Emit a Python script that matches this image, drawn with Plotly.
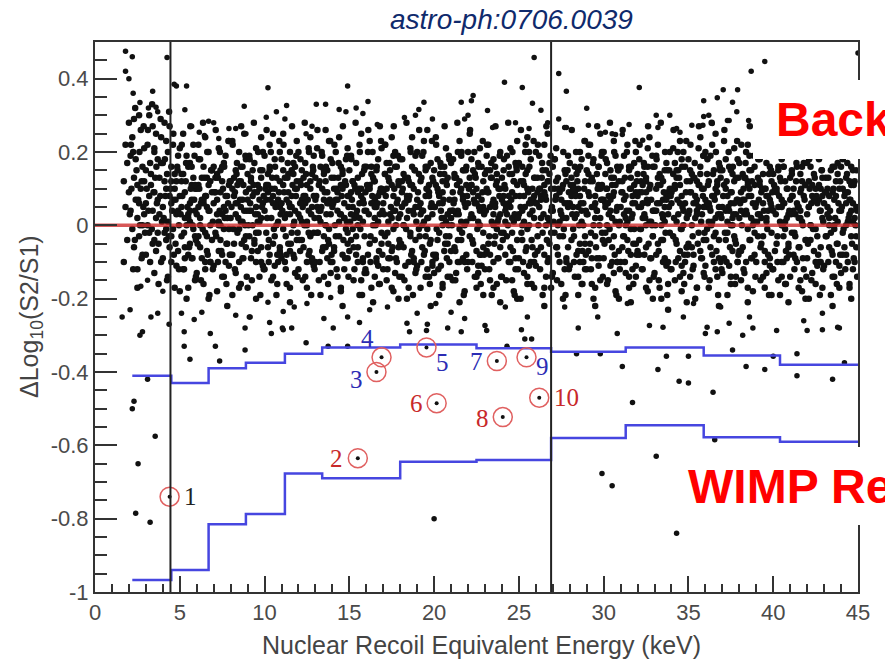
import plotly.graph_objects as go

# ---------------- data ----------------
# dense background band (keV, dLog10(S2/S1))
band_a = [
(1.7,.12),(1.8,.05),(1.9,-.04),(1.8,.22),(1.9,.17),(1.7,-.1),
(2.0,.28),(2.1,.19),(2.2,.24),(2.3,.13),(2.4,.07),(2.5,.02),(2.6,-.03),(2.7,.1),(2.8,.16),(2.9,.21),(2.1,.04),(2.3,-.06),(2.5,.11),(2.7,.26),(2.9,.03),(2.2,-.01),(2.4,.18),(2.6,.3),(2.8,-.08),(2.0,.09),(2.5,-.12),(2.9,.12),(2.3,.29),(2.6,.06),(2.8,.0),
(3.0,.06),(3.1,.22),(3.2,-.02),(3.3,.14),(3.4,.27),(3.5,.09),(3.6,-.07),(3.7,.18),(3.8,.03),(3.9,.24),(3.0,.15),(3.2,.3),(3.4,-.05),(3.5,.2),(3.7,.07),(3.9,-.1),(3.1,.0),(3.3,.11),(3.6,.02),(3.8,.13),(3.2,.08),(3.5,-.13),(3.9,.17),(3.4,.04),(3.7,-.02),(3.0,-.08),(3.6,.25),
(4.0,.05),(4.1,.12),(4.2,-.04),(4.3,.2),(4.4,.08),(4.5,.16),(4.6,-.01),(4.7,.1),(4.8,.03),(4.9,.19),(4.0,-.09),(4.2,.23),(4.4,-.06),(4.6,.07),(4.8,-.11),(4.1,.28),(4.3,.01),(4.5,-.03),(4.7,.14),(4.9,-.07),(4.2,.1),(4.6,.22),(4.8,.12),(4.0,.17),(4.4,.27),(4.9,.04),(4.3,-.14),(4.7,-.17),(4.5,.06),(4.1,-.02),
(5.0,.08),(5.1,-.03),(5.2,.14),(5.3,.02),(5.4,.19),(5.5,-.08),(5.6,.06),(5.7,.11),(5.8,-.01),(5.9,.04),(5.0,.21),(5.2,-.12),(5.3,.09),(5.5,.16),(5.6,-.05),(5.8,.13),(5.9,-.15),(5.1,.05),(5.4,.0),(5.7,-.09),(5.2,.25),(5.6,.01),(5.9,.1),(5.0,-.18),(5.3,-.06),(5.7,.07),(5.8,.22),(5.4,-.2),(5.1,.12),(5.5,.03),(5.9,-.03),(5.6,.17),
(6.0,.03),(6.1,.11),(6.2,-.06),(6.3,.07),(6.4,.16),(6.5,-.02),(6.6,.05),(6.7,.2),(6.8,-.1),(6.9,.09),(6.0,-.13),(6.2,.02),(6.3,.13),(6.5,.08),(6.6,-.07),(6.8,.0),(6.9,.15),(6.1,-.03),(6.4,-.16),(6.7,.04),(6.2,.18),(6.5,.24),(6.8,.12),(6.0,.1),(6.3,-.09),(6.6,.13),(6.9,-.04),(6.4,.06),(6.7,-.2),(6.1,.22),(6.5,-.12),
(7.0,.06),(7.1,-.02),(7.2,.14),(7.3,.01),(7.4,.09),(7.5,-.08),(7.6,.17),(7.7,.04),(7.8,-.05),(7.9,.11),(7.0,-.11),(7.2,.07),(7.3,.21),(7.5,.03),(7.6,-.14),(7.8,.08),(7.9,-.01),(7.1,.13),(7.4,-.04),(7.7,.19),(7.2,-.18),(7.5,.12),(7.8,.02),(7.0,.16),(7.3,-.07),(7.6,.05),(7.9,.23),(7.4,.0),(7.7,-.1),(7.1,.09),(7.8,-.22),(7.4,.15),
(8.0,.02),(8.1,.1),(8.2,-.05),(8.3,.15),(8.4,.06),(8.5,-.01),(8.6,.12),(8.7,-.09),(8.8,.04),(8.9,.18),(8.0,-.08),(8.2,.08),(8.3,-.13),(8.5,.2),(8.6,.01),(8.8,-.04),(8.9,.09),(8.1,.23),(8.4,-.02),(8.7,.07),(8.2,.13),(8.5,-.1),(8.7,.16),(8.0,.12),(8.3,.03),(8.6,-.16),(8.9,-.06),(8.4,.11),(8.8,.25),(8.1,-.19),(8.6,.05),
(9.0,.07),(9.1,-.03),(9.2,.12),(9.3,.0),(9.4,.17),(9.5,.05),(9.6,-.07),(9.7,.1),(9.8,.02),(9.9,-.11),(9.0,.14),(9.2,-.09),(9.3,.08),(9.5,.21),(9.6,.03),(9.8,.13),(9.9,.06),(9.1,.19),(9.4,-.05),(9.7,-.14),(9.2,.04),(9.5,-.02),(9.8,-.06),(9.0,-.17),(9.3,.15),(9.6,.11),(9.9,.2),(9.4,.09),(9.7,.01),(9.1,.1),(9.5,-.2),(9.8,.24),
(10.0,.04),(10.1,.11),(10.2,-.06),(10.3,.16),(10.4,.02),(10.5,.08),(10.6,-.03),(10.7,.13),(10.8,-.1),(10.9,.05),(10.0,-.12),(10.2,.09),(10.3,.22),(10.5,-.05),(10.6,.18),(10.8,.01),(10.9,.12),(10.1,-.02),(10.4,-.15),(10.7,.06),(10.2,.14),(10.5,.25),(10.8,.07),(10.0,.19),(10.3,-.08),(10.6,.1),(10.9,-.07),(10.4,.1),(10.7,-.19),(10.1,.07),(10.9,.2),
]

band_b = [
(11.0,.06),(11.1,-.01),(11.2,.13),(11.3,.03),(11.4,.09),(11.5,-.07),(11.6,.15),(11.7,.0),(11.8,.1),(11.9,-.04),(11.0,.18),(11.2,-.1),(11.3,.07),(11.5,.2),(11.6,-.02),(11.8,-.13),(11.9,.12),(11.1,.11),(11.4,-.05),(11.7,.17),(11.2,.02),(11.5,.05),(11.8,.04),(11.0,-.09),(11.3,-.16),(11.6,.08),(11.9,.23),(11.4,.14),(11.7,-.08),(11.1,.25),(11.5,-.21),(11.8,.16),
(12.0,.03),(12.1,.12),(12.2,-.04),(12.3,.08),(12.4,.17),(12.5,.01),(12.6,-.08),(12.7,.1),(12.8,.05),(12.9,-.02),(12.0,-.12),(12.2,.15),(12.3,-.06),(12.5,.11),(12.6,.21),(12.8,-.1),(12.9,.08),(12.1,.02),(12.4,-.14),(12.7,-.03),(12.2,.07),(12.5,-.17),(12.8,.14),(12.0,.2),(12.3,.13),(12.6,.04),(12.9,.19),(12.4,.06),(12.7,.24),(12.1,-.07),(12.5,.0),(12.9,-.11),
(13.0,.07),(13.1,-.02),(13.2,.11),(13.3,.04),(13.4,-.07),(13.5,.14),(13.6,.0),(13.7,.09),(13.8,-.05),(13.9,.18),(13.0,-.1),(13.2,.02),(13.3,.16),(13.5,-.03),(13.6,.12),(13.8,.06),(13.9,-.13),(13.1,.21),(13.4,.1),(13.7,-.09),(13.2,-.15),(13.5,.07),(13.8,.23),(13.0,.13),(13.3,-.19),(13.6,-.06),(13.9,.03),(13.4,.19),(13.7,.15),(13.1,.05),(13.6,.26),(13.8,-.01),
(14.0,.05),(14.1,.13),(14.2,-.03),(14.3,.09),(14.4,.01),(14.5,.16),(14.6,-.08),(14.7,.06),(14.8,.11),(14.9,-.05),(14.0,-.1),(14.2,.2),(14.3,-.14),(14.5,.03),(14.6,.14),(14.8,-.01),(14.9,.08),(14.1,-.06),(14.4,.24),(14.7,-.12),(14.2,.07),(14.5,-.18),(14.8,.18),(14.0,.17),(14.3,.04),(14.6,.1),(14.9,.21),(14.4,-.03),(14.7,.02),(14.1,.1),(14.6,-.22),(14.9,-.09),
(15.0,.08),(15.1,-.04),(15.2,.12),(15.3,.02),(15.4,.17),(15.5,-.06),(15.6,.06),(15.7,.1),(15.8,-.1),(15.9,.04),(15.0,.15),(15.2,-.01),(15.3,-.12),(15.5,.09),(15.6,.22),(15.8,.07),(15.9,-.03),(15.1,.19),(15.4,-.08),(15.7,-.15),(15.2,.05),(15.5,.13),(15.8,.01),(15.0,-.07),(15.3,.11),(15.6,-.19),(15.9,.16),(15.4,.03),(15.7,.25),(15.1,.09),(15.5,.0),(15.9,-.13),
(16.0,.04),(16.1,.1),(16.2,-.05),(16.3,.14),(16.4,.0),(16.5,.07),(16.6,-.09),(16.7,.18),(16.8,.03),(16.9,-.02),(16.0,-.13),(16.2,.11),(16.3,.06),(16.5,-.04),(16.6,.15),(16.8,.09),(16.9,.21),(16.1,-.08),(16.4,.13),(16.7,-.11),(16.2,.23),(16.5,.02),(16.8,-.16),(16.0,.16),(16.3,-.17),(16.6,.05),(16.9,.1),(16.4,-.21),(16.7,.08),(16.1,.2),(16.5,.12),(16.8,.27),
(17.0,.06),(17.1,-.03),(17.2,.1),(17.3,.01),(17.4,.15),(17.5,-.07),(17.6,.08),(17.7,.04),(17.8,-.1),(17.9,.12),(17.0,-.12),(17.2,.17),(17.3,-.05),(17.5,.11),(17.6,-.01),(17.8,.06),(17.9,-.06),(17.1,.14),(17.4,.03),(17.7,.2),(17.2,-.15),(17.5,.24),(17.8,.16),(17.0,.09),(17.3,.13),(17.6,-.18),(17.9,.02),(17.4,-.09),(17.7,-.13),(17.1,.22),(17.6,.19),(17.9,-.2),
(18.0,.03),(18.1,.09),(18.2,-.06),(18.3,.13),(18.4,.02),(18.5,.07),(18.6,-.02),(18.7,.16),(18.8,-.09),(18.9,.05),(18.0,.18),(18.2,.0),(18.3,-.11),(18.5,.12),(18.6,.21),(18.8,.1),(18.9,-.04),(18.1,-.14),(18.4,.08),(18.7,-.07),(18.2,.14),(18.5,-.17),(18.8,.03),(18.0,-.05),(18.3,.06),(18.6,.11),(18.9,.19),(18.4,-.2),(18.7,.24),(18.1,.12),(18.5,.04),(18.9,-.13),
(19.0,.07),(19.1,-.01),(19.2,.12),(19.3,.04),(19.4,-.08),(19.5,.15),(19.6,.02),(19.7,.09),(19.8,-.04),(19.9,.13),(19.0,-.11),(19.2,.06),(19.3,.19),(19.5,-.03),(19.6,.1),(19.8,.17),(19.9,-.1),(19.1,.14),(19.4,.01),(19.7,-.14),(19.2,-.17),(19.5,.08),(19.8,.05),(19.0,.2),(19.3,-.06),(19.6,-.12),(19.9,.03),(19.4,.23),(19.7,.11),(19.1,.05),(19.6,.26),(19.8,-.22),
(20.0,.05),(20.1,.11),(20.2,-.04),(20.3,.08),(20.4,.16),(20.5,.0),(20.6,-.07),(20.7,.12),(20.8,.03),(20.9,-.1),(20.0,-.13),(20.2,.18),(20.3,-.02),(20.5,.09),(20.6,.14),(20.8,-.05),(20.9,.07),(20.1,-.09),(20.4,.04),(20.7,.21),(20.2,.1),(20.5,-.16),(20.8,.13),(20.0,.15),(20.3,-.19),(20.6,.02),(20.9,.18),(20.4,-.11),(20.7,-.03),(20.1,.24),(20.5,.06),(20.8,-.14),
]

band_c = [
(21.0,.02),(21.1,.09),(21.2,-.06),(21.3,.13),(21.4,.04),(21.5,-.01),(21.6,.1),(21.7,-.09),(21.8,.06),(21.9,.16),(21.0,.17),(21.2,.07),(21.3,-.13),(21.5,.12),(21.6,-.04),(21.8,.0),(21.9,-.08),(21.1,-.15),(21.4,.2),(21.7,.08),(21.2,.14),(21.5,.23),(21.8,-.18),(21.0,-.07),(21.3,.03),(21.6,.19),(21.9,.11),(21.4,-.1),(21.7,.15),(21.1,.04),(21.5,-.21),(21.9,.01),
(22.0,.06),(22.1,-.03),(22.2,.11),(22.3,.02),(22.4,.14),(22.5,-.07),(22.6,.08),(22.7,.04),(22.8,-.11),(22.9,.12),(22.0,-.1),(22.2,.18),(22.3,-.05),(22.5,.1),(22.6,.01),(22.8,.16),(22.9,-.02),(22.1,.13),(22.4,-.14),(22.7,.21),(22.2,.03),(22.5,-.17),(22.8,.07),(22.0,.2),(22.3,.09),(22.6,-.13),(22.9,.05),(22.4,.06),(22.7,-.08),(22.1,.25),(22.6,.17),(22.9,-.19),
(23.0,.04),(23.1,.1),(23.2,-.05),(23.3,.15),(23.4,.01),(23.5,.07),(23.6,-.03),(23.7,.12),(23.8,-.09),(23.9,.03),(23.0,-.12),(23.2,.09),(23.3,-.15),(23.5,.18),(23.6,.06),(23.8,.1),(23.9,.2),(23.1,-.07),(23.4,.13),(23.7,-.01),(23.2,.22),(23.5,-.1),(23.8,.02),(23.0,.14),(23.3,.05),(23.6,.16),(23.9,-.06),(23.4,-.19),(23.7,-.16),(23.1,.19),(23.5,.0),(23.9,-.21),
(24.0,.07),(24.1,-.02),(24.2,.1),(24.3,.03),(24.4,.16),(24.5,-.06),(24.6,.09),(24.7,.01),(24.8,-.12),(24.9,.11),(24.0,.13),(24.2,-.08),(24.3,.19),(24.5,.05),(24.6,-.15),(24.8,.08),(24.9,-.04),(24.1,.15),(24.4,-.1),(24.7,.12),(24.2,.04),(24.5,.21),(24.8,.17),(24.0,-.14),(24.3,-.03),(24.6,.02),(24.9,.23),(24.4,.06),(24.7,-.18),(24.1,.08),(24.6,.14),(24.9,-.2),
(25.0,.03),(25.1,.12),(25.2,-.04),(25.3,.08),(25.4,.14),(25.5,-.01),(25.6,.06),(25.7,-.1),(25.8,.1),(25.9,.02),(25.0,-.09),(25.2,.16),(25.3,-.13),(25.5,.1),(25.6,.2),(25.8,-.06),(25.9,.13),(25.1,.05),(25.4,-.07),(25.7,.18),(25.2,.0),(25.5,-.16),(25.8,.04),(25.0,.17),(25.3,.11),(25.6,-.11),(25.9,-.17),(25.4,.22),(25.7,.07),(25.1,-.2),(25.5,.24),(25.9,.08),
(26.0,.06),(26.1,-.03),(26.2,.1),(26.3,.02),(26.4,.15),(26.5,-.08),(26.6,.07),(26.7,.12),(26.8,-.05),(26.9,.04),(26.0,-.11),(26.2,.19),(26.3,-.06),(26.5,.09),(26.6,-.14),(26.8,.17),(26.9,.1),(26.1,.13),(26.4,-.02),(26.7,-.1),(26.2,.05),(26.5,.22),(26.8,.01),(26.0,.2),(26.3,.08),(26.6,.0),(26.9,-.17),(26.4,-.19),(26.7,.25),(26.1,.09),(26.5,-.22),(26.8,.14),
(27.0,.04),(27.1,.1),(27.2,-.06),(27.3,.13),(27.4,.01),(27.5,.07),(27.6,-.03),(27.7,.15),(27.8,-.1),(27.9,.05),(27.0,-.13),(27.2,.08),(27.3,-.08),(27.5,-.16),(27.6,.11),(27.8,.02),(27.9,.19),(27.1,-.02),(27.4,.09),(27.7,-.12),(27.2,.21),(27.5,.03),(27.8,.12),(27.0,.16),(27.3,.0),(27.6,-.2),(27.9,-.06),(27.4,-.1),(27.7,.06),(27.1,.18),
(28.0,.06),(28.1,-.04),(28.2,.11),(28.3,.02),(28.4,.14),(28.5,-.07),(28.6,.08),(28.7,.04),(28.8,-.1),(28.9,.12),(28.0,.17),(28.2,-.01),(28.3,-.14),(28.5,.1),(28.6,.2),(28.8,.06),(28.9,-.03),(28.1,.13),(28.4,-.08),(28.7,-.16),(28.2,.05),(28.5,.15),(28.8,.0),(28.0,-.11),(28.3,.09),(28.6,-.05),(28.9,.23),(28.4,.03),(28.7,.18),(28.1,.08),(28.5,-.19),(28.9,-.12),
(29.0,.03),(29.1,.09),(29.2,-.05),(29.3,.13),(29.4,.0),(29.5,.06),(29.6,-.09),(29.7,.16),(29.8,.02),(29.9,-.02),(29.0,-.12),(29.2,.12),(29.3,.05),(29.5,-.03),(29.6,.14),(29.8,.1),(29.9,.2),(29.1,-.07),(29.4,.18),(29.7,-.11),(29.2,.22),(29.5,.08),(29.8,-.15),(29.0,.15),(29.3,-.16),(29.6,.04),(29.9,.07),(29.4,-.2),(29.7,.11),(29.1,.19),(29.5,-.22),(29.8,.25),
(30.0,.07),(30.1,-.02),(30.2,.1),(30.3,.03),(30.4,.15),(30.5,-.06),(30.6,.09),(30.7,.01),(30.8,-.1),(30.9,.12),(30.0,-.09),(30.2,.17),(30.3,-.04),(30.5,.11),(30.6,-.13),(30.8,.05),(30.9,-.07),(30.1,.14),(30.4,.04),(30.7,.19),(30.2,-.16),(30.5,.02),(30.8,.16),(30.0,.2),(30.3,.08),(30.6,.13),(30.9,.0),(30.4,-.11),(30.7,-.18),(30.1,.06),(30.6,.23),(30.9,-.2),
]

band_d = [
(31.0,.05),(31.1,.12),(31.2,-.03),(31.3,.08),(31.4,.01),(31.5,.15),(31.6,-.08),(31.7,.06),(31.8,.11),(31.9,-.05),(31.0,-.1),(31.2,.19),(31.3,-.13),(31.5,.04),(31.6,.13),(31.8,-.01),(31.9,.09),(31.1,-.06),(31.4,.22),(31.7,-.12),(31.2,.07),(31.5,-.17),(31.8,.17),(31.0,.16),(31.3,.02),(31.6,.1),(31.9,.2),(31.4,-.04),(31.7,.03),(31.1,.09),(31.6,-.21),(31.9,-.14),
(32.0,.08),(32.1,-.04),(32.2,.12),(32.3,.02),(32.4,.16),(32.5,-.06),(32.6,.06),(32.7,.1),(32.8,-.09),(32.9,.04),(32.0,.14),(32.2,-.01),(32.3,-.12),(32.5,.09),(32.6,.21),(32.8,.07),(32.9,-.03),(32.1,.18),(32.4,-.08),(32.7,-.15),(32.2,.05),(32.5,.13),(32.8,.01),(32.0,-.07),(32.3,.11),(32.6,-.18),(32.9,.16),(32.4,.03),(32.7,.24),(32.1,.09),(32.5,.0),(32.9,-.2),
(33.0,.04),(33.1,.1),(33.2,-.05),(33.3,.14),(33.4,.0),(33.5,.07),(33.6,-.09),(33.7,.17),(33.8,.03),(33.9,-.02),(33.0,-.13),(33.2,.11),(33.3,.06),(33.5,-.04),(33.6,.15),(33.8,.09),(33.9,.2),(33.1,-.08),(33.4,.13),(33.7,-.11),(33.2,.22),(33.5,.02),(33.8,-.16),(33.0,.16),(33.3,-.17),(33.6,.05),(33.9,.1),(33.4,-.2),(33.7,.08),(33.1,.19),(33.5,.12),(33.8,-.23),
(34.0,.06),(34.1,-.03),(34.2,.1),(34.3,.01),(34.4,.15),(34.5,-.07),(34.6,.08),(34.7,.04),(34.8,-.1),(34.9,.12),(34.0,-.12),(34.2,.17),(34.3,-.05),(34.5,.11),(34.6,-.01),(34.8,.06),(34.9,-.06),(34.1,.14),(34.4,.03),(34.7,.2),(34.2,-.15),(34.5,.23),(34.8,.16),(34.0,.09),(34.3,.13),(34.6,-.18),(34.9,.02),(34.4,-.09),(34.7,-.13),(34.1,.21),(34.6,.18),(34.9,-.21),
(35.0,.03),(35.1,.09),(35.2,-.06),(35.3,.13),(35.4,.02),(35.5,.07),(35.6,-.02),(35.7,.16),(35.8,-.09),(35.9,.05),(35.0,.18),(35.2,.0),(35.3,-.11),(35.5,.12),(35.6,.21),(35.8,.1),(35.9,-.04),(35.1,-.14),(35.4,.08),(35.7,-.07),(35.2,.14),(35.5,-.17),(35.8,.03),(35.0,-.05),(35.3,.06),(35.6,.11),(35.9,.19),(35.4,-.2),(35.7,.24),(35.1,.12),(35.5,.04),(35.9,-.13),
(36.0,.07),(36.1,-.01),(36.2,.12),(36.3,.04),(36.4,-.08),(36.5,.15),(36.6,.02),(36.7,.09),(36.8,-.04),(36.9,.13),(36.0,-.11),(36.2,.06),(36.3,.19),(36.5,-.03),(36.6,.1),(36.8,.17),(36.9,-.1),(36.1,.14),(36.4,.01),(36.7,-.14),(36.2,-.17),(36.5,.08),(36.8,.05),(36.0,.2),(36.3,-.06),(36.6,-.12),(36.9,.03),(36.4,.22),(36.7,.11),(36.1,.05),(36.6,.25),(36.8,-.22),
(37.0,.05),(37.1,.11),(37.2,-.04),(37.3,.08),(37.4,.16),(37.5,.0),(37.6,-.07),(37.7,.12),(37.8,.03),(37.9,-.1),(37.0,-.13),(37.2,.18),(37.3,-.02),(37.5,.09),(37.6,.14),(37.8,-.05),(37.9,.07),(37.1,-.09),(37.4,.04),(37.7,.21),(37.2,.1),(37.5,-.16),(37.8,.13),(37.0,.15),(37.3,-.19),(37.6,.02),(37.9,.18),(37.4,-.11),(37.7,-.03),(37.1,.23),(37.5,.06),(37.8,-.14),
(38.0,.02),(38.1,.09),(38.2,-.06),(38.3,.13),(38.4,.04),(38.5,-.01),(38.6,.1),(38.7,-.09),(38.8,.06),(38.9,.16),(38.0,.17),(38.2,.07),(38.3,-.13),(38.5,.12),(38.6,-.04),(38.8,.0),(38.9,-.08),(38.1,-.15),(38.4,.2),(38.7,.08),(38.2,.14),(38.5,.22),(38.8,-.18),(38.0,-.07),(38.3,.03),(38.6,.19),(38.9,.11),(38.4,-.1),(38.7,.15),(38.1,.04),(38.5,-.21),(38.9,.01),
(39.0,.06),(39.1,-.03),(39.2,.11),(39.3,.02),(39.4,.14),(39.5,-.07),(39.6,.08),(39.7,.04),(39.8,-.11),(39.9,.12),(39.0,-.1),(39.2,.18),(39.3,-.05),(39.5,.1),(39.6,.01),(39.8,.16),(39.9,-.02),(39.1,.13),(39.4,-.14),(39.7,.21),(39.2,.03),(39.5,-.17),(39.8,.07),(39.0,.2),(39.3,.09),(39.6,-.13),(39.9,.05),(39.4,.06),(39.7,-.08),(39.1,.24),(39.6,.17),(39.9,-.19),
(40.0,.04),(40.1,.1),(40.2,-.05),(40.3,.15),(40.4,.01),(40.5,.07),(40.6,-.03),(40.7,.12),(40.8,-.09),(40.9,.03),(40.0,-.12),(40.2,.09),(40.3,-.15),(40.5,.18),(40.6,.06),(40.8,.1),(40.9,.2),(40.1,-.07),(40.4,.13),(40.7,-.01),(40.2,.22),(40.5,-.1),(40.8,.02),(40.0,.14),(40.3,.05),(40.6,.16),(40.9,-.06),(40.4,-.19),(40.7,-.16),(40.1,.19),(40.5,.0),(40.9,-.21),
(41.0,.07),(41.1,-.02),(41.2,.1),(41.3,.03),(41.4,.16),(41.5,-.06),(41.6,.09),(41.7,.01),(41.8,-.12),(41.9,.11),(41.0,.13),(41.2,-.08),(41.3,.19),(41.5,.05),(41.6,-.15),(41.8,.08),(41.9,-.04),(41.1,.15),(41.4,-.1),(41.7,.12),(41.2,.04),(41.5,.21),(41.8,.17),(41.0,-.14),(41.3,-.03),(41.6,.02),(41.9,.23),(41.4,.06),(41.7,-.18),(41.1,.08),(41.6,.14),(41.9,-.2),
(42.0,.03),(42.1,.12),(42.2,-.04),(42.3,.08),(42.4,.14),(42.5,-.01),(42.6,.06),(42.7,-.1),(42.8,.1),(42.9,.02),(42.0,-.09),(42.2,.16),(42.3,-.13),(42.5,.1),(42.6,.2),(42.8,-.06),(42.9,.13),(42.1,.05),(42.4,-.07),(42.7,.18),(42.2,.0),(42.5,-.16),(42.8,.04),(42.0,.17),(42.3,.11),(42.6,-.11),(42.9,-.17),(42.4,.22),(42.7,.07),(42.1,-.2),(42.5,.24),(42.9,.08),
(43.0,.06),(43.1,-.03),(43.2,.1),(43.3,.02),(43.4,.15),(43.5,-.08),(43.6,.07),(43.7,.12),(43.8,-.05),(43.9,.04),(43.0,-.11),(43.2,.19),(43.3,-.06),(43.5,.09),(43.6,-.14),(43.8,.17),(43.9,.1),(43.1,.13),(43.4,-.02),(43.7,-.1),(43.2,.05),(43.5,.22),(43.8,.01),(43.0,.2),(43.3,.08),(43.6,.0),(43.9,-.17),(43.4,-.19),(43.7,.25),(43.1,.09),(43.5,-.22),(43.8,.14),
(44.0,.04),(44.1,.1),(44.2,-.06),(44.3,.13),(44.4,.01),(44.5,.07),(44.6,-.03),(44.7,.15),(44.8,-.1),(44.9,.05),(44.0,-.13),(44.2,.08),(44.3,-.08),(44.5,-.16),(44.6,.11),(44.8,.02),(44.9,.19),(44.1,-.02),(44.4,.09),(44.7,-.12),(44.2,.21),(44.5,.03),(44.8,.12),(44.0,.16),(44.3,.0),(44.6,-.2),(44.9,-.06),(44.4,-.1),(44.7,.06),(44.1,.18),(44.6,.04),(44.9,.15),
]

# extra events in the densest part of the band (between about -0.1 and +0.17)
core_a = [
(2.05,.03),(2.15,.1),(2.35,-.04),(2.45,.15),(2.55,.07),(2.65,.0),(2.75,.12),(2.85,.05),(2.95,-.02),(2.25,.2),
(3.05,.1),(3.15,.04),(3.25,.17),(3.35,-.01),(3.45,.09),(3.55,.13),(3.65,.06),(3.75,-.05),(3.85,.08),(3.95,.01),(3.5,.21),
(4.05,.02),(4.15,.08),(4.25,.14),(4.35,-.03),(4.45,.1),(4.55,.04),(4.65,-.08),(4.75,.07),(4.85,.16),(4.95,.0),(4.5,.12),(4.2,-.01),
(5.05,.03),(5.15,.08),(5.25,-.02),(5.35,.12),(5.45,.05),(5.55,-.06),(5.65,.1),(5.75,.0),(5.85,.07),(5.95,-.04),(5.1,.14),(5.3,-.09),(5.5,.02),(5.7,.16),(5.9,.11),(5.6,.04),
(6.05,-.05),(6.15,.1),(6.25,.06),(6.35,-.01),(6.45,.13),(6.55,.08),(6.65,-.08),(6.75,.04),(6.85,.15),(6.95,.01),(6.2,.0),(6.4,.07),(6.6,-.03),(6.8,-.1),(6.1,.05),(6.7,.11),
(7.05,.09),(7.15,-.03),(7.25,.13),(7.35,.04),(7.45,-.07),(7.55,.1),(7.65,.02),(7.75,-.05),(7.85,.06),(7.95,.12),(7.3,.0),(7.5,.16),(7.7,.08),(7.9,-.11),(7.2,.03),(7.6,-.01),
(8.05,.05),(8.15,-.01),(8.25,.09),(8.35,.14),(8.45,.02),(8.55,.07),(8.65,-.05),(8.75,.11),(8.85,.0),(8.95,.04),(8.1,-.08),(8.3,.06),(8.5,.12),(8.7,.01),(8.9,-.03),(8.6,.16),
(9.05,.0),(9.15,.06),(9.25,-.07),(9.35,.11),(9.45,.03),(9.55,.09),(9.65,-.02),(9.75,.15),(9.85,.05),(9.95,.08),(9.2,.13),(9.4,-.04),(9.6,.01),(9.8,-.1),(9.1,.04),(9.7,.07),
(10.05,.1),(10.15,.02),(10.25,-.04),(10.35,.07),(10.45,.13),(10.55,-.01),(10.65,.05),(10.75,-.08),(10.85,.09),(10.95,.03),(10.3,.15),(10.5,.06),(10.7,.0),(10.9,-.06),(10.2,.11),(10.6,-.11),
(11.05,.04),(11.15,.09),(11.25,-.03),(11.35,.13),(11.45,.06),(11.55,-.05),(11.65,.11),(11.75,.01),(11.85,.08),(11.95,-.02),(11.1,.15),(11.3,-.08),(11.5,.03),(11.7,.14),(11.9,.1),(11.6,.05),
(12.05,-.04),(12.15,.11),(12.25,.05),(12.35,.0),(12.45,.14),(12.55,.07),(12.65,-.07),(12.75,.03),(12.85,.16),(12.95,.02),(12.2,.01),(12.4,.08),(12.6,-.02),(12.8,-.09),(12.1,.06),(12.7,.12),
(13.05,.08),(13.15,-.02),(13.25,.12),(13.35,.05),(13.45,-.06),(13.55,.09),(13.65,.03),(13.75,-.04),(13.85,.07),(13.95,.13),(13.3,.01),(13.5,.15),(13.7,.06),(13.9,-.1),(13.2,.04),(13.6,.0),
(14.05,.06),(14.15,.0),(14.25,.1),(14.35,.13),(14.45,.03),(14.55,.08),(14.65,-.04),(14.75,.12),(14.85,.01),(14.95,.05),(14.1,-.07),(14.3,.07),(14.5,.11),(14.7,.02),(14.9,-.02),(14.6,.15),
(15.05,.01),(15.15,.07),(15.25,-.06),(15.35,.1),(15.45,.04),(15.55,.1),(15.65,-.01),(15.75,.14),(15.85,.06),(15.95,.09),(15.2,.12),(15.4,-.03),(15.6,.02),(15.8,-.09),(15.1,.03),(15.7,.08),
]

core_b = [
(16.05,.11),(16.15,.03),(16.25,-.03),(16.35,.08),(16.45,.12),(16.55,.0),(16.65,.06),(16.75,-.07),(16.85,.1),(16.95,.04),(16.3,.16),(16.5,.05),(16.7,.01),(16.9,-.05),(16.2,.1),(16.6,-.1),
(17.05,.03),(17.15,.08),(17.25,-.02),(17.35,.12),(17.45,.05),(17.55,-.06),(17.65,.1),(17.75,.0),(17.85,.07),(17.95,-.04),(17.1,.14),(17.3,-.09),(17.5,.02),(17.7,.16),(17.9,.11),(17.6,.04),
(18.05,-.05),(18.15,.1),(18.25,.06),(18.35,-.01),(18.45,.13),(18.55,.08),(18.65,-.08),(18.75,.04),(18.85,.15),(18.95,.01),(18.2,.0),(18.4,.07),(18.6,-.03),(18.8,-.1),(18.1,.05),(18.7,.11),
(19.05,.09),(19.15,-.03),(19.25,.13),(19.35,.04),(19.45,-.07),(19.55,.1),(19.65,.02),(19.75,-.05),(19.85,.06),(19.95,.12),(19.3,.0),(19.5,.16),(19.7,.08),(19.9,-.11),(19.2,.03),(19.6,-.01),
(20.05,.05),(20.15,-.01),(20.25,.09),(20.35,.14),(20.45,.02),(20.55,.07),(20.65,-.05),(20.75,.11),(20.85,.0),(20.95,.04),(20.1,-.08),(20.3,.06),(20.5,.12),(20.7,.01),(20.9,-.03),(20.6,.16),
(21.05,.0),(21.15,.06),(21.25,-.07),(21.35,.11),(21.45,.03),(21.55,.09),(21.65,-.02),(21.75,.15),(21.85,.05),(21.95,.08),(21.2,.13),(21.4,-.04),(21.6,.01),(21.8,-.1),(21.1,.04),(21.7,.07),
(22.05,.1),(22.15,.02),(22.25,-.04),(22.35,.07),(22.45,.13),(22.55,-.01),(22.65,.05),(22.75,-.08),(22.85,.09),(22.95,.03),(22.3,.15),(22.5,.06),(22.7,.0),(22.9,-.06),(22.2,.11),(22.6,-.11),
(23.05,.04),(23.15,.09),(23.25,-.03),(23.35,.13),(23.45,.06),(23.55,-.05),(23.65,.11),(23.75,.01),(23.85,.08),(23.95,-.02),(23.1,.15),(23.3,-.08),(23.5,.03),(23.7,.14),(23.9,.1),(23.6,.05),
(24.05,-.04),(24.15,.11),(24.25,.05),(24.35,.0),(24.45,.14),(24.55,.07),(24.65,-.07),(24.75,.03),(24.85,.16),(24.95,.02),(24.2,.01),(24.4,.08),(24.6,-.02),(24.8,-.09),(24.1,.06),(24.7,.12),
(25.05,.08),(25.15,-.02),(25.25,.12),(25.35,.05),(25.45,-.06),(25.55,.09),(25.65,.03),(25.75,-.04),(25.85,.07),(25.95,.13),(25.3,.01),(25.5,.15),(25.7,.06),(25.9,-.1),(25.2,.04),(25.6,.0),
(26.05,.06),(26.15,.0),(26.25,.1),(26.35,.13),(26.45,.03),(26.55,.08),(26.65,-.04),(26.75,.12),(26.85,.01),(26.95,.05),(26.1,-.07),(26.3,.07),(26.5,.11),(26.7,.02),(26.9,-.02),(26.6,.15),
(27.05,.01),(27.15,.07),(27.25,-.06),(27.35,.1),(27.45,.04),(27.55,.1),(27.65,-.01),(27.75,.14),(27.85,.06),(27.95,.09),(27.2,.12),(27.4,-.03),(27.6,.02),(27.8,-.09),
(28.05,.11),(28.15,.03),(28.25,-.03),(28.35,.08),(28.45,.12),(28.55,.0),(28.65,.06),(28.75,-.07),(28.85,.1),(28.95,.04),(28.3,.16),(28.5,.05),(28.7,.01),(28.9,-.05),(28.2,.1),(28.6,-.1),
(29.05,.03),(29.15,.08),(29.25,-.02),(29.35,.12),(29.45,.05),(29.55,-.06),(29.65,.1),(29.75,.0),(29.85,.07),(29.95,-.04),(29.1,.14),(29.3,-.09),(29.5,.02),(29.7,.16),(29.9,.11),(29.6,.04),
(30.05,-.05),(30.15,.1),(30.25,.06),(30.35,-.01),(30.45,.13),(30.55,.08),(30.65,-.08),(30.75,.04),(30.85,.15),(30.95,.01),(30.2,.0),(30.4,.07),(30.6,-.03),(30.8,-.1),(30.1,.05),(30.7,.11),
]

core_c = [
(31.05,.09),(31.15,-.03),(31.25,.13),(31.35,.04),(31.45,-.07),(31.55,.1),(31.65,.02),(31.75,-.05),(31.85,.06),(31.95,.12),(31.3,.0),(31.5,.16),(31.7,.08),(31.9,-.11),(31.2,.03),(31.6,-.01),
(32.05,.05),(32.15,-.01),(32.25,.09),(32.35,.14),(32.45,.02),(32.55,.07),(32.65,-.05),(32.75,.11),(32.85,.0),(32.95,.04),(32.1,-.08),(32.3,.06),(32.5,.12),(32.7,.01),(32.9,-.03),(32.6,.16),
(33.05,.0),(33.15,.06),(33.25,-.07),(33.35,.11),(33.45,.03),(33.55,.09),(33.65,-.02),(33.75,.15),(33.85,.05),(33.95,.08),(33.2,.13),(33.4,-.04),(33.6,.01),(33.8,-.1),(33.1,.04),(33.7,.07),
(34.05,.1),(34.15,.02),(34.25,-.04),(34.35,.07),(34.45,.13),(34.55,-.01),(34.65,.05),(34.75,-.08),(34.85,.09),(34.95,.03),(34.3,.15),(34.5,.06),(34.7,.0),(34.9,-.06),(34.2,.11),(34.6,-.11),
(35.05,.04),(35.15,.09),(35.25,-.03),(35.35,.13),(35.45,.06),(35.55,-.05),(35.65,.11),(35.75,.01),(35.85,.08),(35.95,-.02),(35.1,.15),(35.3,-.08),(35.5,.03),(35.7,.14),(35.9,.1),(35.6,.05),
(36.05,-.04),(36.15,.11),(36.25,.05),(36.35,.0),(36.45,.14),(36.55,.07),(36.65,-.07),(36.75,.03),(36.85,.16),(36.95,.02),(36.2,.01),(36.4,.08),(36.6,-.02),(36.8,-.09),(36.1,.06),(36.7,.12),
(37.05,.08),(37.15,-.02),(37.25,.12),(37.35,.05),(37.45,-.06),(37.55,.09),(37.65,.03),(37.75,-.04),(37.85,.07),(37.95,.13),(37.3,.01),(37.5,.15),(37.7,.06),(37.9,-.1),(37.2,.04),(37.6,.0),
(38.05,.06),(38.15,.0),(38.25,.1),(38.35,.13),(38.45,.03),(38.55,.08),(38.65,-.04),(38.75,.12),(38.85,.01),(38.95,.05),(38.1,-.07),(38.3,.07),(38.5,.11),(38.7,.02),(38.9,-.02),(38.6,.15),
(39.05,.01),(39.15,.07),(39.25,-.06),(39.35,.1),(39.45,.04),(39.55,.1),(39.65,-.01),(39.75,.14),(39.85,.06),(39.95,.09),(39.2,.12),(39.4,-.03),(39.6,.02),(39.8,-.09),(39.1,.03),(39.7,.08),
(40.05,.11),(40.15,.03),(40.25,-.03),(40.35,.08),(40.45,.12),(40.55,.0),(40.65,.06),(40.75,-.07),(40.85,.1),(40.95,.04),(40.3,.16),(40.5,.05),(40.7,.01),(40.9,-.05),(40.2,.1),(40.6,-.1),
(41.05,.03),(41.15,.08),(41.25,-.02),(41.35,.12),(41.45,.05),(41.55,-.06),(41.65,.1),(41.75,.0),(41.85,.07),(41.95,-.04),(41.1,.14),(41.3,-.09),(41.5,.02),(41.7,.16),(41.9,.11),(41.6,.04),
(42.05,-.05),(42.15,.1),(42.25,.06),(42.35,-.01),(42.45,.13),(42.55,.08),(42.65,-.08),(42.75,.04),(42.85,.15),(42.95,.01),(42.2,.0),(42.4,.07),(42.6,-.03),(42.8,-.1),(42.1,.05),(42.7,.11),
(43.05,.09),(43.15,-.03),(43.25,.13),(43.35,.04),(43.45,-.07),(43.55,.1),(43.65,.02),(43.75,-.05),(43.85,.06),(43.95,.12),(43.3,.0),(43.5,.16),(43.7,.08),(43.9,-.11),(43.2,.03),(43.6,-.01),
(44.05,.05),(44.15,-.01),(44.25,.09),(44.35,.14),(44.45,.02),(44.55,.07),(44.65,-.05),(44.75,.11),(44.85,.0),(44.95,.04),(44.1,-.08),(44.3,.06),(44.5,.12),(44.7,.01),(44.9,-.03),(44.6,.16),
]

# events on the upper and lower shoulders of the band
shoulder = [
(2.12,.22),(2.37,.32),(2.62,.2),(2.87,.27),(2.25,-.12),(2.5,-.17),(2.75,-.09),
(3.12,.26),(3.37,.33),(3.62,.16),(3.87,.29),(3.25,-.1),(3.5,-.04),(3.75,-.16),
(4.12,.18),(4.37,.31),(4.62,.25),(4.87,.15),(4.25,-.15),(4.5,-.1),(4.75,-.05),(4.95,-.12),
(5.12,.22),(5.37,.17),(5.62,.27),(5.87,.19),(5.25,-.12),(5.5,-.17),(5.75,-.09),(5.95,-.14),
(6.12,.18),(6.37,.28),(6.62,.2),(6.87,.15),(6.25,-.15),(6.5,-.1),(6.75,-.19),(6.95,-.12),
(7.12,.26),(7.37,.2),(7.62,.16),(7.87,.23),(7.25,-.1),(7.5,-.14),(7.75,-.16),(7.95,-.08),
(8.12,.22),(8.37,.17),(8.62,.27),(8.87,.19),(8.25,-.12),(8.5,-.17),(8.75,-.09),(8.95,-.14),
(9.12,.18),(9.37,.28),(9.62,.2),(9.87,.15),(9.25,-.15),(9.5,-.1),(9.75,-.19),(9.95,-.12),
(10.12,.26),(10.37,.2),(10.62,.16),(10.87,.23),(10.25,-.1),(10.5,-.14),(10.75,-.16),(10.95,-.08),
(11.12,.22),(11.37,.17),(11.62,.27),(11.87,.19),(11.25,-.12),(11.5,-.17),(11.75,-.09),(11.95,-.14),
(12.12,.18),(12.37,.28),(12.62,.2),(12.87,.15),(12.25,-.15),(12.5,-.1),(12.75,-.19),(12.95,-.12),
(13.12,.26),(13.37,.2),(13.62,.16),(13.87,.23),(13.25,-.1),(13.5,-.14),(13.75,-.16),(13.95,-.08),
(14.12,.22),(14.37,.17),(14.62,.27),(14.87,.19),(14.25,-.12),(14.5,-.17),(14.75,-.09),(14.95,-.14),
(15.12,.18),(15.37,.28),(15.62,.2),(15.87,.15),(15.25,-.15),(15.5,-.1),(15.75,-.19),(15.95,-.12),
(16.12,.26),(16.37,.2),(16.62,.16),(16.87,.23),(16.25,-.1),(16.5,-.14),(16.75,-.16),(16.95,-.08),
(17.12,.22),(17.37,.17),(17.62,.27),(17.87,.19),(17.25,-.12),(17.5,-.17),(17.75,-.09),(17.95,-.14),
(18.12,.18),(18.37,.28),(18.62,.2),(18.87,.15),(18.25,-.15),(18.5,-.1),(18.75,-.19),(18.95,-.12),
(19.12,.26),(19.37,.2),(19.62,.16),(19.87,.23),(19.25,-.1),(19.5,-.14),(19.75,-.16),(19.95,-.08),
(20.12,.22),(20.37,.17),(20.62,.27),(20.87,.19),(20.25,-.12),(20.5,-.17),(20.75,-.09),(20.95,-.14),
(21.12,.18),(21.37,.28),(21.62,.2),(21.87,.15),(21.25,-.15),(21.5,-.1),(21.75,-.19),(21.95,-.12),
(22.12,.26),(22.37,.2),(22.62,.16),(22.87,.23),(22.25,-.1),(22.5,-.14),(22.75,-.16),(22.95,-.08),
(23.12,.22),(23.37,.17),(23.62,.27),(23.87,.19),(23.25,-.12),(23.5,-.17),(23.75,-.09),(23.95,-.14),
(24.12,.18),(24.37,.28),(24.62,.2),(24.87,.15),(24.25,-.15),(24.5,-.1),(24.75,-.19),(24.95,-.12),
(25.12,.26),(25.37,.2),(25.62,.16),(25.87,.23),(25.25,-.1),(25.5,-.14),(25.75,-.16),(25.95,-.08),
(26.12,.22),(26.37,.17),(26.62,.27),(26.87,.19),(26.25,-.12),(26.5,-.17),(26.75,-.09),(26.95,-.14),
(27.12,.18),(27.62,.2),(27.87,.15),(27.25,-.15),(27.75,-.19),(27.95,-.12),
(28.12,.26),(28.37,.2),(28.62,.16),(28.87,.23),(28.25,-.1),(28.5,-.14),(28.75,-.16),(28.95,-.08),
(29.12,.22),(29.37,.17),(29.62,.27),(29.87,.19),(29.25,-.12),(29.5,-.17),(29.75,-.09),(29.95,-.14),
(30.12,.18),(30.37,.28),(30.62,.2),(30.87,.15),(30.25,-.15),(30.5,-.1),(30.75,-.19),(30.95,-.12),
(31.12,.26),(31.37,.2),(31.62,.16),(31.87,.23),(31.25,-.1),(31.5,-.14),(31.75,-.16),(31.95,-.08),
(32.12,.22),(32.37,.17),(32.62,.27),(32.87,.19),(32.25,-.12),(32.5,-.17),(32.75,-.09),(32.95,-.14),
(33.12,.18),(33.37,.28),(33.62,.2),(33.87,.15),(33.25,-.15),(33.5,-.1),(33.75,-.19),(33.95,-.12),
(34.12,.26),(34.37,.2),(34.62,.16),(34.87,.23),(34.25,-.1),(34.5,-.14),(34.75,-.16),(34.95,-.08),
(35.12,.22),(35.37,.17),(35.62,.27),(35.87,.19),(35.25,-.12),(35.5,-.17),(35.75,-.09),(35.95,-.14),
(36.12,.18),(36.37,.28),(36.62,.2),(36.87,.15),(36.25,-.15),(36.5,-.1),(36.75,-.19),(36.95,-.12),
(37.12,.26),(37.37,.2),(37.62,.16),(37.87,.23),(37.25,-.1),(37.5,-.14),(37.75,-.16),(37.95,-.08),
(38.12,.22),(38.37,.17),(38.62,.27),(38.87,.19),(38.25,-.12),(38.5,-.17),(38.75,-.09),(38.95,-.14),
(39.12,.18),(39.37,.28),(39.62,.2),(39.87,.15),(39.25,-.15),(39.5,-.1),(39.75,-.19),(39.95,-.12),
(40.12,.26),(40.37,.2),(40.62,.16),(40.87,.23),(40.25,-.1),(40.5,-.14),(40.75,-.16),(40.95,-.08),
(41.12,.22),(41.37,.17),(41.62,.27),(41.87,.19),(41.25,-.12),(41.5,-.17),(41.75,-.09),(41.95,-.14),
(42.12,.18),(42.37,.28),(42.62,.2),(42.87,.15),(42.25,-.15),(42.5,-.1),(42.75,-.19),(42.95,-.12),
(43.12,.26),(43.37,.2),(43.62,.16),(43.87,.23),(43.25,-.1),(43.5,-.14),(43.75,-.16),(43.95,-.08),
(44.12,.22),(44.37,.17),(44.62,.27),(44.87,.19),(44.25,-.12),(44.5,-.17),(44.75,-.09),(44.95,-.14),
]

# sparse events above the band
upper_tail = [
(1.8,.475),(2.2,.46),(1.8,.42),(2.0,.40),(2.25,.36),(3.4,.366),(4.25,.458),(4.8,.38),(5.4,.38),(5.3,.315),(5.7,.27),(8.8,.325),(10.2,.375),(11.2,.29),(11.3,.327),(10.1,.295),(10.7,.31),(2.65,.335),(3.15,.32),(3.6,.322),(3.7,.31),(6.7,.284),(7.0,.28),(6.15,.254),(6.45,.245),(7.3,.237),(7.9,.264),(8.3,.264),(8.9,.25),(4.67,.385),
(14.9,.38),(13.05,.33),(13.6,.33),(16.1,.338),(15.4,.32),(14.4,.316),(14.8,.31),(15.8,.305),(19.4,.336),(19.1,.316),(21.6,.336),(22.3,.354),(22.2,.34),(23.15,.313),(24.15,.39),(25.2,.376),(25.9,.458),(25.8,.333),(26.3,.314),(18.25,.294),(16.65,.275),(19.9,.29),(22.0,.30),(12.8,.27),(12.45,.25),(27.35,.414),(27.8,.366),(27.35,.29),(27.8,.267),(26.7,.28),(23.45,.267),(24.8,.28),(25.6,.264),(18.9,.30),(21.8,.29),
(45.0,.47),(39.5,.447),(38.7,.42),(32.1,.376),(29.0,.319),(37.05,.37),(37.9,.37),(36.7,.348),(35.9,.34),(37.6,.336),(33.1,.30),(33.9,.30),(33.2,.267),(31.5,.275),(29.1,.273),(27.7,.267),(30.1,.254),(30.5,.25),(31.1,.248),(34.3,.264),(35.2,.273),(35.85,.273),(36.2,.30),(36.4,.278),(37.3,.286),(37.85,.31),(38.55,.286),(35.9,.297),(37.4,.286),(34.5,.254),(32.3,.232),(30.7,.248),
]

# sparse events below the band
lower_tail = [
(2.7,-.166),(3.1,-.15),(4.0,-.18),(1.6,-.25),(2.07,-.23),(3.3,-.25),(3.7,-.24),(2.8,-.29),(2.65,-.30),(4.37,-.27),(3.1,-.42),(2.3,-.48),(2.2,-.50),(3.55,-.575),(2.54,-.65),(2.4,-.785),(3.25,-.81),
(5.26,-.29),(5.26,-.33),(5.6,-.365),(6.8,-.295),(7.1,-.33),(7.35,-.37),(8.3,-.245),(8.85,-.28),(8.85,-.34),(9.15,-.25),(10.4,-.295),(11.1,-.285),(11.6,-.28),(10.3,-.265),(11.1,-.235),(12.45,-.32),(13.75,-.33),(14.9,-.33),(14.05,-.28),(11.05,-.28),(18.55,-.29),(19.55,-.287),(19.6,-.27),(20.8,-.28),(21.6,-.29),(23.1,-.287),(24.3,-.33),(25.15,-.285),(25.35,-.31),(25.75,-.31),(25.5,-.25),(16.2,-.23),(20.0,-.80),
(5.1,-.24),(5.85,-.257),(6.3,-.237),(9.1,-.25),(10.2,-.21),(11.75,-.223),(12.5,-.213),(13.5,-.254),(13.9,-.197),(14.9,-.25),(15.6,-.265),(19.0,-.24),(20.1,-.213),(21.0,-.237),(21.8,-.254),(23.0,-.273),(24.2,-.223),(18.4,-.267),(17.25,-.223),(27.7,-.223),(29.65,-.25),(31.4,-.213),
(32.7,-.273),(33.5,-.278),(34.7,-.25),(36.1,-.278),(37.4,-.267),(38.6,-.25),(41.8,-.26),(42.9,-.24),(43.8,-.278),(36.9,-.223),(35.3,-.213),
(28.5,-.28),(30.8,-.295),(28.4,-.35),(29.8,-.35),(31.1,-.385),(33.7,-.357),(35.0,-.357),(33.2,-.393),(34.45,-.425),(35.0,-.43),(36.45,-.455),(31.7,-.483),(37.6,-.34),(38.4,-.385),(39.5,-.393),(40.0,-.357),(41.4,-.35),(41.4,-.41),(43.5,-.42),(44.2,-.375),(36.55,-.585),(36.0,-.295),(36.7,-.29),(38.2,-.30),(38.8,-.28),(40.2,-.287),(42.0,-.287),(42.9,-.285),(43.9,-.28),(29.9,-.677),(30.5,-.71),(33.1,-.63),(34.3,-.84),
]

# the ten candidate events
event_ids = ["1", "2", "3", "4", "5", "6", "7", "8", "9", "10"]
event_x = [4.4, 15.5, 16.6, 16.9, 19.55, 20.15, 23.7, 24.05, 25.45, 26.2]
event_y = [-0.74, -0.635, -0.40, -0.36, -0.333, -0.485, -0.37, -0.523, -0.36, -0.47]

# acceptance boundaries (step functions)
cut_edges = [2.2, 4.5, 6.7, 8.9, 11.2, 13.4, 18.0, 22.5, 26.9, 31.3, 35.9, 40.4, 45.0]
upper_cut = [-0.41, -0.43, -0.39, -0.375, -0.35, -0.333, -0.325, -0.335, -0.345, -0.333, -0.355, -0.38]
lower_cut = [-0.967, -0.94, -0.815, -0.787, -0.677, -0.69, -0.645, -0.64, -0.58, -0.545, -0.578, -0.59]

window_x = [4.45, 26.9]
zero_level = 0.0

x_ticks = [0, 5, 10, 15, 20, 25, 30, 35, 40, 45]
y_ticks = [0.4, 0.2, 0, -0.2, -0.4, -0.6, -0.8, -1]
y_tick_text = ["0.4", "0.2", "0", "-0.2", "-0.4", "-0.6", "-0.8", "-1"]

# ---------------- figure ----------------
W, H = 885, 671
ML, MR, MT, MB = 95, 27, 42, 79
PW, PH = W - ML - MR, H - MT - MB


def px(xp):
    return (xp - ML) / PW


def py(yp):
    return (H - MB - yp) / PH


dense = band_a + band_b + band_c + band_d + core_a + core_b + core_c + shoulder
sparse = upper_tail + lower_tail
fig = go.Figure()
fig.add_trace(go.Scatter(
    x=[p[0] for p in dense], y=[p[1] for p in dense], mode="markers",
    marker=dict(size=6.5, color="#111111", line=dict(width=0)),
    hoverinfo="skip", showlegend=False))
fig.add_trace(go.Scatter(
    x=[p[0] for p in sparse], y=[p[1] for p in sparse], mode="markers",
    marker=dict(size=5.5, color="#111111", line=dict(width=0)),
    hoverinfo="skip", showlegend=False))

fig.add_trace(go.Scatter(
    x=[0, 45], y=[zero_level, zero_level], mode="lines",
    line=dict(color="rgba(205,45,45,0.8)", width=3.5),
    hoverinfo="skip", showlegend=False))

for vals in (upper_cut, lower_cut):
    fig.add_trace(go.Scatter(
        x=cut_edges, y=vals + [vals[-1]], mode="lines", line_shape="hv",
        line=dict(color="#4646e0", width=2.5),
        hoverinfo="skip", showlegend=False))

fig.add_trace(go.Scatter(
    x=event_x, y=event_y, mode="markers",
    marker=dict(symbol="circle-open", size=19, color="#e06060", line=dict(width=1.5)),
    hoverinfo="skip", showlegend=False))
fig.add_trace(go.Scatter(
    x=event_x, y=event_y, mode="markers",
    marker=dict(size=4, color="#111111"),
    hoverinfo="skip", showlegend=False))

shapes = []
for wx in window_x:
    shapes.append(dict(type="line", xref="x", yref="paper", x0=wx, x1=wx, y0=0, y1=1,
                       line=dict(color="#222222", width=2)))
# white boxes behind the overlay words
shapes.append(dict(type="rect", xref="paper", yref="paper", x0=px(753), x1=px(900),
                   y0=py(159), y1=py(80), fillcolor="white", line=dict(width=0), layer="above"))
shapes.append(dict(type="rect", xref="paper", yref="paper", x0=px(680), x1=px(900),
                   y0=py(525), y1=py(447), fillcolor="white", line=dict(width=0), layer="above"))

red_lbl = "#c8282a"
blue_lbl = "#2c2cb4"
lbl_style = {
    "1": ("#222222", 21, 0), "2": (red_lbl, -21, 0), "3": (blue_lbl, -20, -7),
    "4": (blue_lbl, -14, 19), "5": (blue_lbl, 16, -15), "6": (red_lbl, -20, 0),
    "7": (blue_lbl, -20, 0), "8": (red_lbl, -20, -1), "9": (blue_lbl, 16, -9),
    "10": (red_lbl, 27, 0),
}
annotations = []
for eid, ex, ey in zip(event_ids, event_x, event_y):
    col, dx, dy = lbl_style[eid]
    annotations.append(dict(x=ex, y=ey, xref="x", yref="y", text=eid, showarrow=False,
                            xanchor="center", yanchor="middle", xshift=dx, yshift=dy,
                            font=dict(family="Liberation Serif, Times New Roman, serif", size=25, color=col)))

annotations += [
    dict(x=px(512), y=py(20), xref="paper", yref="paper", text="astro-ph:0706.0039",
         xanchor="center", yanchor="middle", showarrow=False,
         font=dict(family="Liberation Sans, Arial", size=28, color="#0f2a6c", style="italic")),
    dict(x=px(774), y=py(119), xref="paper", yref="paper", text="<b>Back</b>",
         xanchor="left", yanchor="middle", showarrow=False,
         font=dict(family="Liberation Sans, Arial", size=48, color="#ff0000")),
    dict(x=px(686), y=py(486), xref="paper", yref="paper", text="<b>WIMP Re</b>",
         xanchor="left", yanchor="middle", showarrow=False,
         font=dict(family="Liberation Sans, Arial", size=48, color="#ff0000")),
    dict(x=px(481), y=py(645), xref="paper", yref="paper",
         text="Nuclear Recoil Equivalent Energy (keV)", showarrow=False,
         xanchor="center", yanchor="middle",
         font=dict(family="Liberation Sans, Arial", size=25, color="#444444")),
    dict(x=px(31), y=0.5, xref="paper", yref="paper", textangle=-90,
         text="\u0394Log<sub>10</sub>(S2/S1)", showarrow=False,
         xanchor="center", yanchor="middle",
         font=dict(family="Liberation Sans, Arial", size=25, color="#444444")),
]

axis_font = dict(family="Liberation Sans, Arial", size=22, color="#4a4a4a")
fig.update_layout(
    width=W, height=H, margin=dict(l=ML, r=MR, t=MT, b=MB),
    paper_bgcolor="white", plot_bgcolor="white",
    shapes=shapes, annotations=annotations, showlegend=False,
    xaxis=dict(range=[0, 45], tickmode="array", tickvals=x_ticks,
               ticktext=[str(v) for v in x_ticks], ticks="inside", ticklen=16, tickwidth=1.5,
               tickcolor="#333333", showgrid=False, zeroline=False, showline=True,
               linecolor="#333333", linewidth=2, mirror=True, tickfont=axis_font,
               minor=dict(ticks="inside", ticklen=8, tickwidth=1.5, tickcolor="#333333",
                          tickmode="linear", tick0=0, dtick=1, showgrid=False)),
    yaxis=dict(range=[-1, 0.5], tickmode="array", tickvals=y_ticks, ticktext=y_tick_text,
               ticks="inside", ticklen=22, tickwidth=1.5, tickcolor="#333333",
               showgrid=False, zeroline=False, showline=True, linecolor="#333333",
               linewidth=2, mirror=True, tickfont=axis_font,
               minor=dict(ticks="inside", ticklen=12, tickwidth=1.5, tickcolor="#333333",
                          tickmode="linear", tick0=0, dtick=0.05, showgrid=False)),
)

fig.write_html("out.html", config={"displayModeBar": False},
               post_script="document.body.style.margin='0';")
